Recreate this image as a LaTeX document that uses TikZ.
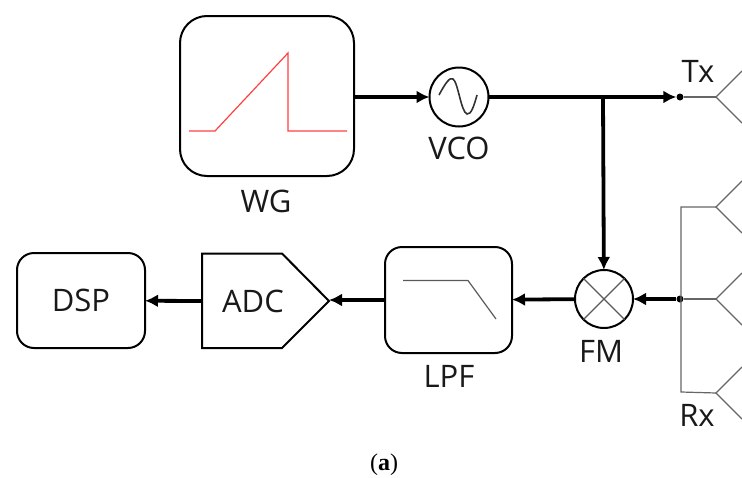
\documentclass[tikz,border=0pt]{standalone}
\usepackage{fontspec}
\setmainfont{Open Sans}
\newfontfamily\capfont{Liberation Serif}
\usetikzlibrary{arrows.meta}
\tikzset{
	block/.style={draw, line width=2pt, rounded corners=#1, inner sep=0pt, outer sep=0pt},
	round/.style={draw, circle, line width=2pt, inner sep=0pt, outer sep=0pt},
	label/.style={inner sep=0pt, text=black!90, font=\fontsize{31}{34}\selectfont},
	sig/.style={line width=3.8pt, -{Latex[length=13pt,width=13pt]}},
	wire/.style={line width=1.2pt, black!60},
	dot/.style={circle, fill=black, inner sep=0pt, minimum size=7pt}
}
\begin{document}
\begin{tikzpicture}[x=1pt, y=-1pt]
		\useasboundingbox (0,0) rectangle (742,477);
		% blocks
		\node[block=27pt, minimum width=174pt, minimum height=160pt] (wg) at (267,96) {};
		\node[round, minimum size=59pt] (vco) at (459,97) {};
		\node[round, minimum size=58pt] (fm) at (604,299) {};
		\node[block=17pt, minimum width=127pt, minimum height=106pt] (lpf) at (448.5,300) {};
		\node[block=17pt, minimum width=128pt, minimum height=95pt] (dsp) at (81,300.5) {};
		\draw[line width=2pt, line join=miter] (202,253.5) -- (282,253.5) -- (329,301) -- (282,348) -- (202,348) -- cycle;
		\coordinate (adcin) at (202,301);
		\coordinate (adctip) at (329,300);
		% insides
		\draw[red!75, line width=1.2pt] (189,131) -- (215,131) -- (288,53) -- (288,131) -- (347,131);
		\draw[black!80, line width=1.6pt] (439,95) .. controls (446,82) and (450,77) .. (453,79) .. controls (458,82) and (461,112) .. (467,114) .. controls (471,115) and (474,106) .. (477,95);
		\draw[black!65, line width=1.2pt] (fm.45) -- (fm.225) (fm.135) -- (fm.315);
		\draw[black!65, line width=1.2pt] (403,280.5) -- (468,280.5) -- (496,319);
		% texts
		\node[label] (wgtxt) at (266,201) {WG};
		\node[label] (vcotxt) at (459,148) {VCO};
		\node[label] (fmtxt) at (601,351) {FM};
		\node[label] (lpftxt) at (449,376) {LPF};
		\node[label] (dsptxt) at (81,300) {DSP};
		\node[label] (adctxt) at (253,301) {ADC};
		\node[label] (txtxt) at (698,71) {Tx};
		\node[label] (rxtxt) at (697,415) {Rx};
		\node[inner sep=0pt, font=\capfont\fontsize{24}{27}\selectfont] (cap) at (384,465) {(\textbf{a})};
		% antennas
		\node[dot] (tx) at (680,97) {};
		\node[dot] (rx) at (680,299) {};
		\foreach \y in {97,207,299,393}
			\draw[wire] (742,\y-26) -- (716,\y) -- (742,\y+26);
		\draw[wire] (tx) -- (716,97);
		\draw[wire] (716,207) -- (681,207) -- (681,392) -- (716,393);
		\draw[wire] (rx) -- (716,299);
		% signal path
		\coordinate (tee) at (603,97);
		\draw[sig] (wg.east |- vco) -- (vco);
		\draw[sig] (vco.east) -- (tx);
		\draw[sig] (tee) -- (fm);
		\draw[sig] (rx) -- (fm);
		\draw[sig] (fm) -- (lpf);
		\draw[sig] (lpf) -- (adctip);
		\draw[sig] (adcin) -- (dsp);
\end{tikzpicture}
\end{document}
